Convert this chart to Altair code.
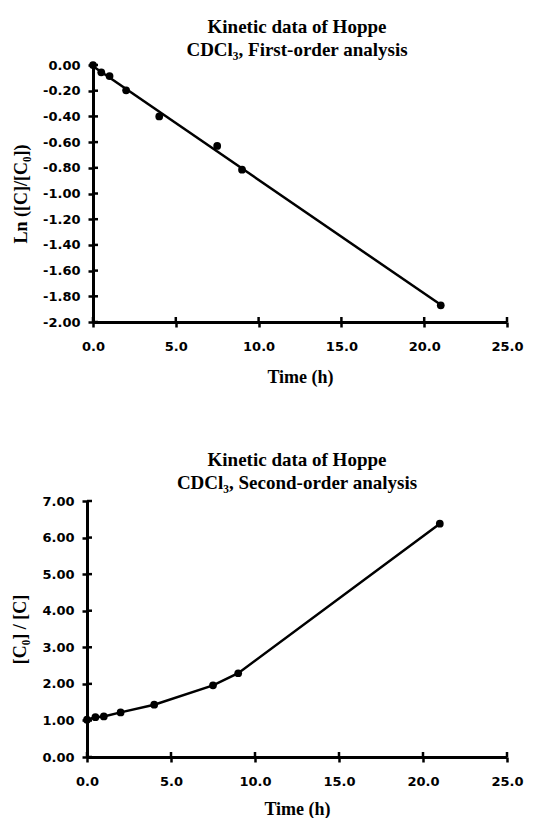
import altair as alt
import pandas as pd

time_h = [0, 0.5, 1, 2, 4, 7.5, 9, 21]
ln_ratio = [0.0, -0.057, -0.086, -0.197, -0.40, -0.63, -0.815, -1.87]
inv_ratio = [1.02, 1.09, 1.11, 1.22, 1.43, 1.96, 2.29, 6.38]

x_ticks = [0, 5, 10, 15, 20, 25]
y1_ticks = [0, -0.2, -0.4, -0.6, -0.8, -1.0, -1.2, -1.4, -1.6, -1.8, -2.0]
y2_ticks = [0, 1, 2, 3, 4, 5, 6, 7]

df1 = pd.DataFrame({"t": time_h, "y": ln_ratio})
df2 = pd.DataFrame({"t": time_h, "y": inv_ratio})

LABEL_FONT = "DejaVu Sans"
SERIF = "Liberation Serif"
W, H1, H2 = 420, 257, 256
SHIFT = 6  # top panel's axis sits a little to the right of the bottom one
TICK = 5
LW = 2.5


def axis_x(title_pad=15):
    return alt.Axis(
        values=x_ticks, tickCount=len(x_ticks), format=".1f", title="Time (h)",
        grid=False, labelFlush=False, labelOverlap=False,
        domainColor="black", domainWidth=3, tickColor="black", tickWidth=LW,
        tickSize=TICK, labelFont=LABEL_FONT, labelFontWeight="bold", labelFontSize=13,
        labelColor="black", labelPadding=13, titleFont=SERIF, titleFontWeight="bold",
        titleFontSize=18, titleColor="black", titlePadding=title_pad,
    )


def axis_y(vals, title, fmt, offset=0):
    return alt.Axis(
        values=vals, tickCount=len(vals), title=title, grid=False,
        labelFlush=False, labelOverlap=False, offset=offset,
        labelExpr="replace(format(datum.value, '" + fmt + "'), '\u2212', '-')",
        domainColor="black", domainWidth=3, tickColor="black", tickWidth=LW,
        tickSize=TICK, labelFont=LABEL_FONT, labelFontWeight="bold", labelFontSize=13,
        labelColor="black", labelPadding=8, titleFont=SERIF, titleFontWeight="bold",
        titleFontSize=18, titleColor="black", titlePadding=12,
    )


def xticks_in(xscale, h):
    return alt.Chart(pd.DataFrame({"v": x_ticks})).mark_rule(
        color="black", strokeWidth=LW
    ).encode(
        x=alt.X("v:Q", scale=xscale),
        y=alt.value(h), y2=alt.value(h - TICK),
    )


def yticks_in(vals, yscale, x0=0):
    return alt.Chart(pd.DataFrame({"v": vals})).mark_rule(
        color="black", strokeWidth=LW
    ).encode(
        y=alt.Y("v:Q", scale=yscale),
        x=alt.value(x0), x2=alt.value(x0 + TICK),
    )


def title(lines, offset):
    return alt.TitleParams(
        lines, font=SERIF, fontSize=19, fontWeight="bold", color="black",
        anchor="middle", lineHeight=23, offset=offset,
    )


xs1 = alt.Scale(domain=[0, 25], range=[SHIFT, W], nice=False)
xs2 = alt.Scale(domain=[0, 25], nice=False)
ys1 = alt.Scale(domain=[-2, 0], nice=False)
ys2 = alt.Scale(domain=[0, 7], nice=False)

base1 = alt.Chart(df1)
pts1 = base1.mark_circle(size=60, color="black", opacity=1).encode(
    x=alt.X("t:Q", scale=xs1, axis=axis_x()),
    y=alt.Y("y:Q", scale=ys1,
            axis=axis_y(y1_ticks, "Ln ([C]/[C\u2080])", ".2f", offset=-SHIFT)),
)
fit1 = base1.transform_regression("t", "y", extent=[0, 21]).mark_line(
    color="black", strokeWidth=LW
).encode(x=alt.X("t:Q", scale=xs1), y=alt.Y("y:Q", scale=ys1))

top = alt.layer(
    pts1, fit1, xticks_in(xs1, H1), yticks_in(y1_ticks, ys1, SHIFT)
).properties(
    width=W, height=H1,
    title=title(["Kinetic data of Hoppe", "CDCl\u2083, First-order analysis"], -1),
)

base2 = alt.Chart(df2)
line2 = base2.mark_line(color="black", strokeWidth=LW).encode(
    x=alt.X("t:Q", scale=xs2, axis=axis_x(12)),
    y=alt.Y("y:Q", scale=ys2, axis=axis_y(y2_ticks, "[C\u2080] / [C]", ".2f")),
)
pts2 = base2.mark_circle(size=60, color="black", opacity=1).encode(
    x=alt.X("t:Q", scale=xs2), y=alt.Y("y:Q", scale=ys2)
)

bottom = alt.layer(
    line2, pts2, xticks_in(xs2, H2), yticks_in(y2_ticks, ys2)
).properties(
    width=W, height=H2,
    title=title(["Kinetic data of Hoppe", "CDCl\u2083, Second-order analysis"], 2),
)

chart = alt.concat(
    top, bottom, columns=1, spacing=65, align="none",
    padding={"left": 11, "top": 18, "right": 5, "bottom": 0},
).configure_view(stroke=None)

chart.save("out.html", embed_options={"renderer": "svg", "actions": False})
